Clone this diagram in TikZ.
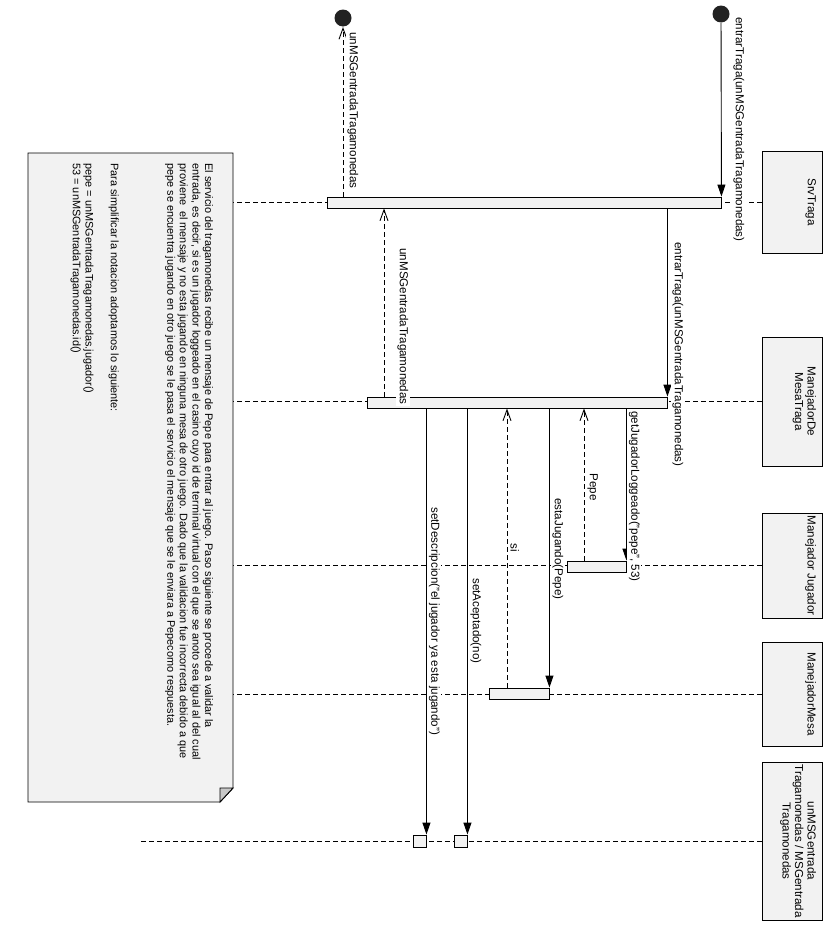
\documentclass[tikz,border=0pt]{standalone}
\usepackage{fontspec}
\setmainfont{Liberation Sans}
\usetikzlibrary{arrows.meta}

\definecolor{boxfill}{HTML}{F2F2F2}
\definecolor{foldfill}{HTML}{C8C8C8}
\definecolor{dotcol}{HTML}{222222}

\begin{document}
\begin{tikzpicture}[x=1pt, y=-1pt, line width=0.9pt,
  every node/.style={font=\fontsize{11.6}{13}\selectfont},
  headbox/.style={draw, fill=boxfill, minimum width=60pt, inner sep=0pt},
  headtext/.style={rotate=-90, anchor=north, align=center, inner sep=0pt,
    font=\fontsize{11.6}{12.5}\selectfont},
  actbar/.style={draw, fill=boxfill, inner sep=0pt},
  lifeline/.style={line width=0.8pt, dash pattern=on 5pt off 3pt},
  sync/.style={-{Triangle[length=12pt,width=8pt]}},
  reply/.style={dash pattern=on 5pt off 3pt, -{Straight Barb[length=11pt,width=8pt]}},
  msglabel/.style={rotate=-90, anchor=south west, fill=white, inner sep=1.5pt},
  enddot/.style={circle, fill=dotcol, minimum size=17pt, inner sep=0pt}]

% canvas
\fill[white] (0,0) rectangle (840,929);
\path[use as bounding box] (0,0) rectangle (840,929);

% participant heads
\node[headbox, minimum height=102pt] (srv)   at (792,202)   {};
\node[headbox, minimum height=129pt] (mdmt)  at (792,401.5) {};
\node[headbox, minimum height=105pt] (mj)    at (792,565.5) {};
\node[headbox, minimum height=104pt] (mm)    at (792,694)   {};
\node[headbox, minimum height=158pt] (unmsg) at (792,841)   {};

\node[headtext] (srvt)   at ([xshift=-6pt]srv.east)   {SrvTraga};
\node[headtext] (mdmtt)  at ([xshift=-6pt]mdmt.east)  {ManejadorDe\\MesaTraga};
\node[headtext] (mjt)    at ([xshift=-6pt]mj.east)    {Manejador Jugador};
\node[headtext] (mmt)    at ([xshift=-6pt]mm.east)    {ManejadorMesa};
\node[headtext] (unmsgt) at ([xshift=-6pt]unmsg.east) {unMSGentrada\\Tragamonedas / MSGentrada\\Tragamonedas};

% lifelines
\coordinate (llx) at (140,0);
\foreach \p in {srv,mdmt,mj,mm,unmsg}
  \draw[lifeline] (\p.west) -- (\p.west -| llx);

% note
\draw[fill=boxfill] (28,153) -- (233,153) -- (233,788) -- (220,802) -- (28,802) -- cycle;
\draw[fill=foldfill] (233,788) -- (220,788) -- (220,802) -- cycle;
\node[rotate=-90, anchor=north west, inner sep=0pt, align=left,
      font=\fontsize{10.9}{12.6}\selectfont] (notetext) at (213.5,163)
 {El servicio del tragamonedas recibe un mensaje de Pepe para entrar al juego. Paso siguiente se procede a validar la\\
  entrada, es decir, si es un jugador loggeado en el casino cuyo id de terminal virtual con el que se anoto sea igual al del cual\\
  proviene\ \ el mensaje y no esta jugando en ninguna mesa de otro juego. Dado que la validacion fue incorrecta debido a que\\
  pepe se encuentra jugando en otro juego se le pasa el servicio el mensaje que se le enviara a Pepecomo respuesta.\\[44pt]
  Para simplificar la notacion adoptamos lo siguiente:\\[12.6pt]
  pepe = unMSGentradaTragamonedas.jugador()\\
  53 = unMSGentradaTragamonedas.id()};

% activation bars
\node[actbar, minimum width=394pt, minimum height=11pt] (srvbar)  at (524,202.5)   {};
\node[actbar, minimum width=300pt, minimum height=11pt] (mdmtbar) at (517,402.5)   {};
\node[actbar, minimum width=59pt,  minimum height=11pt] (mjbar)   at (596.5,566.5) {};
\node[actbar, minimum width=60pt,  minimum height=11pt] (mmbar)   at (519,693.5)   {};
\node[actbar, minimum width=13pt,  minimum height=12pt] (sqa)     at (419.5,841)   {};
\node[actbar, minimum width=13pt,  minimum height=12pt] (sqb)     at (460.5,841)   {};

% found and lost ends
\node[enddot] (start) at (721,14) {};
\node[enddot] (lost)  at (343,18) {};

% reply columns
\coordinate (ra) at (384,0);
\coordinate (rb) at (584,0);
\coordinate (rc) at (507,0);

% messages
\draw[sync]  (start) -- (srvbar.north east);
\draw[reply] (srvbar.north -| lost) -- (lost);
\draw[sync]  (srvbar.south -| mdmtbar.east) -- (mdmtbar.north east);
\draw[reply] (mdmtbar.north -| ra) -- (srvbar.south -| ra);
\draw[sync]  (mdmtbar.south -| mjbar.east) -- (mjbar.north east);
\draw[reply] (mjbar.north -| rb) -- (mdmtbar.south -| rb);
\draw[sync]  (mdmtbar.south -| mmbar.east) -- (mmbar.north east);
\draw[reply] (mmbar.north -| rc) -- (mdmtbar.south -| rc);
\draw[sync]  (mdmtbar.south -| sqb.east) -- (sqb.north east);
\draw[sync]  (mdmtbar.south -| sqa.east) -- (sqa.north east);

% message labels
\node[msglabel] (l1)  at (731.5,15.5)  {entrarTraga(unMSGentradaTragamonedas)};
\node[msglabel] (l2)  at (345.5,30.5)  {unMSGentradaTragamonedas};
\node[msglabel] (l3)  at (670.5,240.5) {entrarTraga(unMSGentradaTragamonedas)};
\node[msglabel] (l4)  at (395.5,246.5) {unMSGentradaTragamonedas};
\node[msglabel] (l5)  at (627,409.5)   {getJugadorLoggeado("pepe", 53)};
\node[msglabel] (l6)  at (585.5,471.5) {Pepe};
\node[msglabel] (l7)  at (550.5,496.5) {estaJugando(Pepe)};
\node[msglabel] (l8)  at (508.5,541.5) {si};
\node[msglabel] (l9)  at (468.5,576.5) {setAceptado(no)};
\node[msglabel] (l10) at (427,505.5)   {setDescripcion("el jugador ya esta jugando")};
\end{tikzpicture}
\end{document}
